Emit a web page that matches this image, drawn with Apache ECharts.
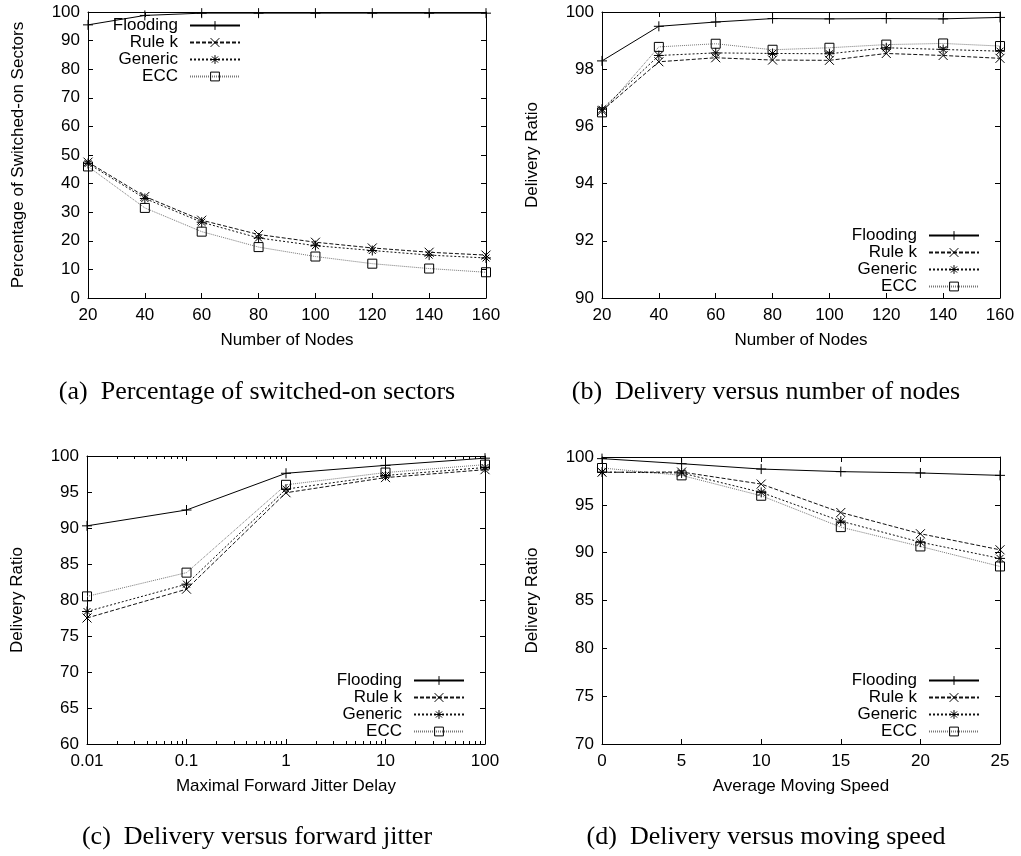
<!DOCTYPE html>
<html>
<head>
<meta charset="utf-8">
<script src="https://cdn.jsdelivr.net/npm/echarts@6/dist/echarts.min.js"></script>
<style>
html,body{margin:0;padding:0;background:#fff;}
#chart{width:1021px;height:856px;}
</style>
</head>
<body>
<div id="chart"></div>
<script>
// ---------- data ----------
var seriesNames = ['Flooding', 'Rule k', 'Generic', 'ECC'];

// (a) percentage of switched-on sectors vs number of nodes
var nodes = [20, 40, 60, 80, 100, 120, 140, 160];
var aFlooding = [95.5, 98.8, 99.6, 99.6, 99.6, 99.6, 99.6, 99.6];
var aRuleK    = [47.5, 35.5, 27.2, 22.2, 19.5, 17.5, 16.0, 15.0];
var aGeneric  = [47.0, 34.8, 26.5, 21.0, 18.3, 16.6, 15.0, 14.0];
var aECC      = [46.0, 31.5, 23.2, 17.8, 14.5, 12.0, 10.3, 9.0];

// (b) delivery ratio vs number of nodes
var bFlooding = [98.29, 99.50, 99.65, 99.77, 99.76, 99.77, 99.76, 99.81];
var bRuleK    = [96.55, 98.26, 98.40, 98.32, 98.31, 98.55, 98.48, 98.38];
var bGeneric  = [96.60, 98.48, 98.57, 98.55, 98.54, 98.75, 98.69, 98.63];
var bECC      = [96.49, 98.78, 98.89, 98.68, 98.75, 98.86, 98.90, 98.81];

// (c) delivery ratio vs maximal forward jitter delay (log x)
var jitter = [0.01, 0.1, 1, 10, 100];
var cFlooding = [90.3, 92.5, 97.6, 98.7, 99.7];
var cRuleK    = [77.5, 81.5, 94.9, 97.0, 98.1];
var cGeneric  = [78.4, 82.2, 95.4, 97.3, 98.4];
var cECC      = [80.5, 83.8, 96.0, 97.7, 98.8];
var jitterMinorTicks = [0.02, 0.03, 0.04, 0.05, 0.06, 0.07, 0.08, 0.09,
                        0.2, 0.3, 0.4, 0.5, 0.6, 0.7, 0.8, 0.9,
                        2, 3, 4, 5, 6, 7, 8, 9,
                        20, 30, 40, 50, 60, 70, 80, 90];

// (d) delivery ratio vs average moving speed
var speed = [0, 5, 10, 15, 20, 25];
var dFlooding = [99.83, 99.30, 98.74, 98.47, 98.33, 98.08];
var dRuleK    = [98.40, 98.43, 97.17, 94.20, 91.98, 90.30];
var dGeneric  = [98.43, 98.33, 96.30, 93.30, 91.10, 89.40];
var dECC      = [98.85, 98.08, 95.95, 92.67, 90.65, 88.56];

var xTitles = ['Number of Nodes', 'Number of Nodes', 'Maximal Forward Jitter Delay', 'Average Moving Speed'];
var yTitles = ['Percentage of Switched-on Sectors', 'Delivery Ratio', 'Delivery Ratio', 'Delivery Ratio'];
var captions = ['(a)  Percentage of switched-on sectors', '(b)  Delivery versus number of nodes',
                '(c)  Delivery versus forward jitter', '(d)  Delivery versus moving speed'];

// ---------- styling ----------
var SANS = '"Liberation Sans", Arial, sans-serif';
var SERIF = '"Liberation Serif", "Times New Roman", serif';
var FS = 17;
var grids = [
  {left: 88, top: 12, width: 398, height: 286},
  {left: 602, top: 12, width: 398, height: 286},
  {left: 87, top: 456, width: 398, height: 288},
  {left: 602, top: 457, width: 398, height: 287}
];
var xRanges = [
  {type: 'value', min: 20, max: 160, interval: 20},
  {type: 'value', min: 20, max: 160, interval: 20},
  {type: 'log', min: 0.01, max: 100, logBase: 10},
  {type: 'value', min: 0, max: 25, interval: 5}
];
var yRanges = [
  {min: 0, max: 100, interval: 10},
  {min: 90, max: 100, interval: 2},
  {min: 60, max: 100, interval: 5},
  {min: 70, max: 100, interval: 5}
];

var SYM_PLUS = 'path://M0,5L10,5M5,0L5,10';
var SYM_X = 'path://M0,0L10,10M10,0L0,10';
var SYM_STAR = 'path://M0,5L10,5M5,0L5,10M1.5,1.5L8.5,8.5M8.5,1.5L1.5,8.5';

var styles = [
  {symbol: SYM_PLUS, size: 10, line: {color: '#000', width: 1, type: 'solid'}},
  {symbol: SYM_X, size: 9, line: {color: '#111', width: 1, type: [4, 2]}},
  {symbol: SYM_STAR, size: 10, line: {color: '#111', width: 1, type: [2, 2]}},
  {symbol: 'rect', size: 9, line: {color: '#777', width: 1, type: [1, 1]}}
];

var panelData = [
  {x: nodes, ys: [aFlooding, aRuleK, aGeneric, aECC]},
  {x: nodes, ys: [bFlooding, bRuleK, bGeneric, bECC]},
  {x: jitter, ys: [cFlooding, cRuleK, cGeneric, cECC]},
  {x: speed, ys: [dFlooding, dRuleK, dGeneric, dECC]}
];

var legendPos = [
  {right: 780, top: 17},
  {right: 41, top: 227},
  {right: 556, top: 672},
  {right: 41, top: 672}
];
var captionPos = [
  {x: 257, y: 392}, {x: 766, y: 392}, {x: 257, y: 837}, {x: 766, y: 837}
];

var xAxes = [], yAxes = [], series = [], legends = [], graphics = [];

function tickCfg(len) {
  return {show: true, inside: true, length: len, lineStyle: {color: '#000', width: 1}};
}

for (var p = 0; p < 4; p++) {
  var xr = xRanges[p];
  var baseX = {
    gridIndex: p, type: xr.type, min: xr.min, max: xr.max,
    axisLine: {show: true, onZero: false, lineStyle: {color: '#000', width: 1}},
    axisTick: tickCfg(5),
    splitLine: {show: false}
  };
  if (xr.interval) baseX.interval = xr.interval;
  if (xr.logBase) baseX.logBase = xr.logBase;
  var bottomX = Object.assign({}, baseX, {
    position: 'bottom',
    name: xTitles[p], nameLocation: 'middle', nameGap: 34,
    nameTextStyle: {fontFamily: SANS, fontSize: FS, color: '#000'},
    axisLabel: {show: true, margin: 9, fontFamily: SANS, fontSize: FS, color: '#000'}
  });
  var topX = Object.assign({}, baseX, {position: 'top', axisLabel: {show: false}});
  xAxes.push(bottomX);
  xAxes.push(topX);

  var yr = yRanges[p];
  var baseY = {
    gridIndex: p, type: 'value', min: yr.min, max: yr.max, interval: yr.interval,
    axisLine: {show: true, onZero: false, lineStyle: {color: '#000', width: 1}},
    axisTick: tickCfg(5),
    splitLine: {show: false}
  };
  var leftY = Object.assign({}, baseY, {
    position: 'left',
    name: yTitles[p], nameLocation: 'middle', nameGap: 61,
    nameTextStyle: {fontFamily: SANS, fontSize: FS, color: '#000'},
    axisLabel: {show: true, margin: 8, fontFamily: SANS, fontSize: FS, color: '#000'}
  });
  var rightY = Object.assign({}, baseY, {position: 'right', axisLabel: {show: false}});
  yAxes.push(leftY);
  yAxes.push(rightY);

  var pd = panelData[p];
  for (var s = 0; s < 4; s++) {
    var st = styles[s];
    var ys = pd.ys[s];
    series.push({
      type: 'line', name: seriesNames[s],
      xAxisIndex: p * 2, yAxisIndex: p * 2,
      data: pd.x.map(function (xv, i) { return [xv, ys[i]]; }),
      symbol: st.symbol, symbolSize: st.size, showAllSymbol: true,
      itemStyle: {color: 'rgba(0,0,0,0)', borderColor: '#000', borderWidth: 1},
      lineStyle: st.line,
      emphasis: {disabled: true},
      animation: false, z: 10 - s
    });
  }

  legends.push({
    data: seriesNames.slice(),
    orient: 'vertical', align: 'right',
    right: legendPos[p].right, top: legendPos[p].top,
    itemWidth: 50, itemHeight: 11, itemGap: 0, padding: 0,
    selectedMode: false,
    itemStyle: {borderWidth: 1},
    textStyle: {fontFamily: SANS, fontSize: FS, lineHeight: 17, color: '#000', padding: [0, 7, 0, 0]}
  });

  graphics.push({
    type: 'text', x: captionPos[p].x, y: captionPos[p].y,
    style: {text: captions[p], font: '26px ' + SERIF, fill: '#000',
            textAlign: 'center', textVerticalAlign: 'middle'}
  });
}

// extra axes on panel (c) for logarithmic minor ticks (bottom and top)
['bottom', 'top'].forEach(function (pos) {
  xAxes.push({
    gridIndex: 2, type: 'log', logBase: 10, min: 0.01, max: 100, position: pos,
    axisLine: {show: false},
    axisLabel: {show: false},
    splitLine: {show: false},
    axisTick: {show: true, inside: true, length: 3, customValues: jitterMinorTicks,
               lineStyle: {color: '#000', width: 1}}
  });
});

var chart = echarts.init(document.getElementById('chart'), null, {renderer: 'canvas'});
chart.setOption({
  backgroundColor: '#fff',
  animation: false,
  grid: grids,
  xAxis: xAxes,
  yAxis: yAxes,
  legend: legends,
  series: series,
  graphic: graphics
});
</script>
</body>
</html>
